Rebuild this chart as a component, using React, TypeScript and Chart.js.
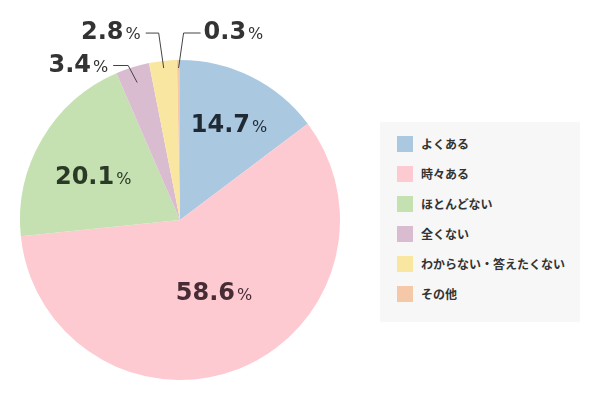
import React, { useEffect, useRef } from "react";
import { Chart, registerables } from "chart.js";

Chart.register(...registerables);

const categories = ["よくある", "時々ある", "ほとんどない", "全くない", "わからない・答えたくない", "その他"];
const values = [14.7, 58.6, 20.1, 3.4, 2.8, 0.3];
const valueLabels = ["14.7", "58.6", "20.1", "3.4", "2.8", "0.3"];
const colors = ["#aac9e1", "#fecad2", "#c5e1b1", "#d9bccf", "#f9e7a1", "#f5c8a8"];

const NUM_FONT = "bold 24px 'DejaVu Sans', sans-serif";
const PCT_FONT = "16px 'DejaVu Sans', sans-serif";

// label placement: inside labels (radius fraction, angle tweak) or outside with leader lines
const placement: any[] = [
  { inside: true, r: 0.68, da: 0.3, color: "rgba(20,28,38,0.92)" },
  { inside: true, r: 0.49, da: -4.3, color: "rgba(60,36,44,0.95)" },
  { inside: true, r: 0.61, da: -3.2, color: "rgba(34,48,32,0.95)" },
  { inside: false, r: 0.9, ex: -9, ey: -17, hx: -15, side: "left" },
  { inside: false, r: 0.955, ex: -5, ey: -35, hx: -13, side: "left" },
  { inside: false, r: 0.95, ex: 5, ey: -35, hx: 17, side: "right" },
];

function drawValue(ctx: CanvasRenderingContext2D, num: string, x: number, y: number, align: "center" | "left" | "right", color: string) {
  ctx.save();
  ctx.textBaseline = "alphabetic";
  ctx.textAlign = "left";
  ctx.font = NUM_FONT;
  const wn = ctx.measureText(num).width;
  ctx.font = PCT_FONT;
  const wp = ctx.measureText("%").width;
  const gap = 2;
  const total = wn + gap + wp;
  let x0 = x;
  if (align === "center") x0 = x - total / 2;
  else if (align === "right") x0 = x - total;
  const base = y + 9;
  ctx.fillStyle = color;
  ctx.font = NUM_FONT;
  ctx.fillText(num, x0, base);
  ctx.font = PCT_FONT;
  ctx.fillText("%", x0 + wn + gap, base);
  ctx.restore();
}

const labelPlugin = {
  id: "pieLabels",
  afterDatasetsDraw(chart: any) {
    const ctx: CanvasRenderingContext2D = chart.ctx;
    const meta = chart.getDatasetMeta(0);
    meta.data.forEach((arc: any, i: number) => {
      const p = placement[i];
      const { x, y, startAngle, endAngle, outerRadius } = arc.getProps(["x", "y", "startAngle", "endAngle", "outerRadius"], true);
      const mid = (startAngle + endAngle) / 2 + ((p.da || 0) * Math.PI) / 180;
      const rr = outerRadius * p.r;
      const px = x + Math.cos(mid) * rr;
      const py = y + Math.sin(mid) * rr;
      if (p.inside) {
        drawValue(ctx, valueLabels[i], px, py, "center", p.color);
      } else {
        const ex = px + p.ex;
        const ey = py + p.ey;
        const hx = ex + p.hx;
        ctx.save();
        ctx.strokeStyle = "#444";
        ctx.lineWidth = 1;
        ctx.beginPath();
        ctx.moveTo(px, py);
        ctx.lineTo(ex, ey);
        ctx.lineTo(hx, ey);
        ctx.stroke();
        ctx.restore();
        if (p.side === "left") drawValue(ctx, valueLabels[i], hx - 5, ey - 3, "right", "#333");
        else drawValue(ctx, valueLabels[i], hx + 3, ey - 3, "left", "#333");
      }
    });
  },
};

export default function App() {
  const ref = useRef<HTMLCanvasElement>(null);
  useEffect(() => {
    if (!ref.current) return;
    const chart = new Chart(ref.current, {
      type: "pie",
      data: {
        labels: categories,
        datasets: [
          {
            data: values,
            backgroundColor: colors,
            borderWidth: 0,
          },
        ],
      },
      options: {
        responsive: false,
        animation: false,
        layout: { padding: { left: 20, top: 60, right: 260, bottom: 20 } },
        plugins: { legend: { display: false }, tooltip: { enabled: false } },
      },
      plugins: [labelPlugin],
    });
    return () => chart.destroy();
  }, []);

  return (
    <div style={{ position: "absolute", left: 0, top: 0, width: 600, height: 400, background: "#fff" }}>
      <canvas ref={ref} width={600} height={400} style={{ position: "absolute", left: 0, top: 0 }} />
      <div
        style={{
          position: "absolute",
          left: 380,
          top: 122,
          width: 200,
          height: 200,
          background: "#f7f7f7",
          fontFamily: "'Noto Sans CJK JP', sans-serif",
          fontSize: 12,
          fontWeight: 700,
          color: "#333",
        }}
      >
        {categories.map((c, i) => (
          <div key={c} style={{ position: "absolute", left: 17, top: 14 + i * 30, height: 16, display: "flex", alignItems: "center", whiteSpace: "nowrap" }}>
            <span style={{ display: "inline-block", width: 16, height: 16, background: colors[i], marginRight: 8 }} />
            <span style={{ lineHeight: "16px" }}>{c}</span>
          </div>
        ))}
      </div>
    </div>
  );
}
